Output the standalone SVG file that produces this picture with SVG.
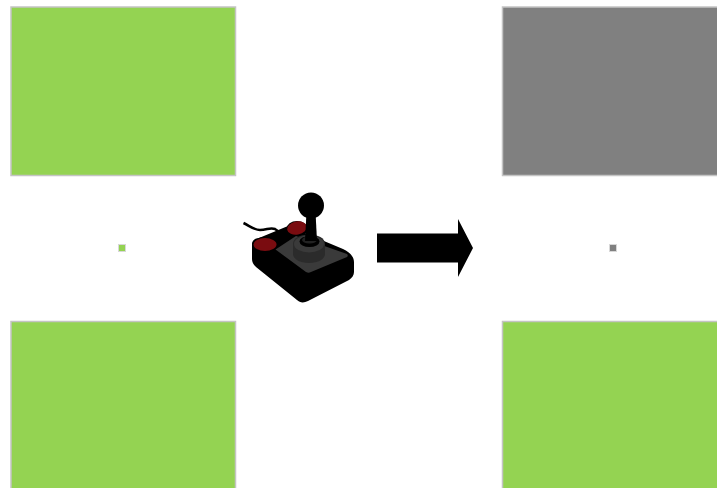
<svg xmlns="http://www.w3.org/2000/svg" width="717" height="488" viewBox="0 0 717 488">
<style>
.g{fill:#94d352;stroke:#c4c4c4;stroke-width:1.5}
.k{fill:#808080;stroke:#c4c4c4;stroke-width:1.5}
.sg{fill:#94d352;stroke:#d8d8d8;stroke-width:1}
.sk{fill:#808080;stroke:#d8d8d8;stroke-width:1}
</style>
<rect width="717" height="488" fill="#fff"/>
<g id="panel-top-left"><rect class="g" x="11" y="7" width="224.500" height="168.500"/></g>
<g id="panel-bottom-left"><rect class="g" x="11" y="321.500" width="224.500" height="168"/></g>
<g id="panel-top-right"><rect class="k" x="502.500" y="7" width="216" height="168.500"/></g>
<g id="panel-bottom-right"><rect class="g" x="502.500" y="321.500" width="216" height="168"/></g>
<g id="dot-left"><rect class="sg" x="118.500" y="244.500" width="7" height="7"/></g>
<g id="dot-right"><rect class="sk" x="609.500" y="244.500" width="7" height="7"/></g>
<g id="joystick">
<path d="M243.500 223C250 226 254 230 260 230C267 230 270 227 275 229L288 238" fill="none" stroke="#000" stroke-width="2.500"/>
<path d="M252 244C252 241 255 238 259 238L288 226L343 249C350 252 354 257 354 262V272C354 275 352 278 349 280L308 301C304 303 300 303 297 300L256 267C253 264 252 262 252 259Z" fill="#000"/>
<ellipse cx="297" cy="229" rx="10.500" ry="8" fill="#000"/>
<ellipse cx="297" cy="228" rx="10" ry="6.500" fill="#7a0c10" transform="rotate(-10 297 228)"/>
<ellipse cx="265" cy="245.500" rx="13" ry="8.500" fill="#000"/>
<ellipse cx="265" cy="244.500" rx="11.500" ry="6.500" fill="#7a0c10"/>
<path d="M275.500 249.500L296 236L347 254C348 255 348 256 347 257L311 272C309 273 308 273 306 272Z" fill="#3a3a3a"/>
<path d="M293 244C293 238 300 234.500 309 234.500C318 234.500 325 238 325 244V254C325 259 318 263 309 263C300 263 293 259 293 254Z" fill="#2b2b2b"/>
<ellipse cx="309" cy="244" rx="15" ry="8.500" fill="#3a3a3a"/>
<ellipse cx="309.500" cy="241.500" rx="10" ry="5.500" fill="#000"/>
<ellipse cx="309.500" cy="240" rx="7.500" ry="3.500" fill="#222"/>
<path d="M306.500 212H315.500L317 241H305Z" fill="#000"/>
<circle cx="311" cy="205.500" r="13" fill="#000"/>
</g>
<g id="connectors">
<path d="M377 233.500H458V219L473 248L458 277V262.500H377Z" fill="#000"/>
</g>
</svg>
